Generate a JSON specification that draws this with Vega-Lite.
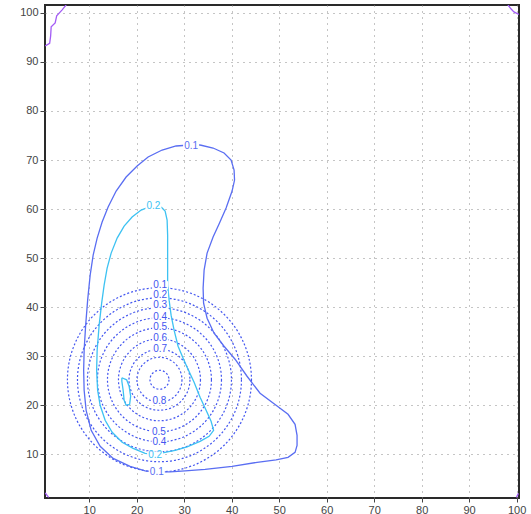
{
  "$schema": "https://vega.github.io/schema/vega-lite/v6.json",
  "width": 474,
  "height": 493,
  "autosize": {"type": "none"},
  "padding": {"left": 45, "top": 5, "right": 12, "bottom": 16},
  "background": "#ffffff",
  "config": {
    "view": {"stroke": "#2a2a2a", "strokeWidth": 2},
    "axis": {
      "domain": false,
      "grid": true,
      "gridColor": "#8a8a8a",
      "gridDash": [1, 5],
      "gridWidth": 1,
      "tickColor": "#444444",
      "tickWidth": 1,
      "labelFont": "Liberation Sans",
      "labelFontSize": 11,
      "labelColor": "#444444",
      "title": null
    },
    "axisX": {"tickSize": 4, "labelPadding": 2},
    "axisY": {"tickSize": 5, "labelPadding": 2}
  },
  "encoding": {
    "x": {"field": "x", "type": "quantitative", "scale": {"domain": [0.7, 100.5], "nice": false, "zero": false}, "axis": {"values": [10, 20, 30, 40, 50, 60, 70, 80, 90, 100]}},
    "y": {"field": "y", "type": "quantitative", "scale": {"domain": [1.1, 101.6], "nice": false, "zero": false}, "axis": {"values": [10, 20, 30, 40, 50, 60, 70, 80, 90, 100]}}
  },
  "layer": [
    {
      "data": {"values": [
        {"lvl": "0.1", "x": 24.8, "y": 25.2, "r": 19.17},
        {"lvl": "0.2", "x": 24.8, "y": 25.2, "r": 17.08},
        {"lvl": "0.3", "x": 24.8, "y": 25.2, "r": 15.0},
        {"lvl": "0.4", "x": 24.8, "y": 25.2, "r": 12.92},
        {"lvl": "0.5", "x": 24.8, "y": 25.2, "r": 10.83},
        {"lvl": "0.6", "x": 24.8, "y": 25.2, "r": 8.54},
        {"lvl": "0.7", "x": 24.8, "y": 25.2, "r": 6.35},
        {"lvl": "0.8", "x": 24.8, "y": 25.2, "r": 4.69},
        {"lvl": "0.9", "x": 24.8, "y": 25.2, "r": 1.98}
      ]},
      "mark": {"type": "point", "shape": "circle", "filled": false, "strokeDash": [2, 2], "strokeWidth": 1.2, "color": "#4356f0", "opacity": 1},
      "encoding": {
        "size": {"field": "r", "type": "quantitative", "scale": {"type": "pow", "exponent": 2, "domain": [0, 20], "range": [0, 36864]}, "legend": null}
      }
    },
    {
      "data": {"values": [
        {"id": "b1", "g": "b", "o": 1, "x": 33.35, "y": 73.06},
        {"id": "b1", "g": "b", "o": 2, "x": 36.09, "y": 72.45},
        {"id": "b1", "g": "b", "o": 3, "x": 38.40, "y": 71.43},
        {"id": "b1", "g": "b", "o": 4, "x": 39.88, "y": 70.0},
        {"id": "b1", "g": "b", "o": 5, "x": 40.51, "y": 67.96},
        {"id": "b1", "g": "b", "o": 6, "x": 40.61, "y": 65.92},
        {"id": "b1", "g": "b", "o": 7, "x": 40.09, "y": 63.67},
        {"id": "b1", "g": "b", "o": 8, "x": 38.83, "y": 60.20},
        {"id": "b1", "g": "b", "o": 9, "x": 37.35, "y": 56.94},
        {"id": "b1", "g": "b", "o": 10, "x": 36.09, "y": 54.29},
        {"id": "b1", "g": "b", "o": 11, "x": 34.83, "y": 51.02},
        {"id": "b1", "g": "b", "o": 12, "x": 34.20, "y": 47.55},
        {"id": "b1", "g": "b", "o": 13, "x": 33.99, "y": 43.88},
        {"id": "b1", "g": "b", "o": 14, "x": 34.09, "y": 40.82},
        {"id": "b1", "g": "b", "o": 15, "x": 34.83, "y": 37.76},
        {"id": "b1", "g": "b", "o": 16, "x": 36.30, "y": 34.69},
        {"id": "b1", "g": "b", "o": 17, "x": 38.40, "y": 32.04},
        {"id": "b1", "g": "b", "o": 18, "x": 40.72, "y": 29.39},
        {"id": "b1", "g": "b", "o": 19, "x": 43.24, "y": 25.92},
        {"id": "b1", "g": "b", "o": 20, "x": 45.98, "y": 22.45},
        {"id": "b1", "g": "b", "o": 21, "x": 49.35, "y": 20.0},
        {"id": "b1", "g": "b", "o": 22, "x": 51.87, "y": 18.16},
        {"id": "b1", "g": "b", "o": 23, "x": 53.35, "y": 16.12},
        {"id": "b1", "g": "b", "o": 24, "x": 53.77, "y": 13.88},
        {"id": "b1", "g": "b", "o": 25, "x": 53.77, "y": 11.84},
        {"id": "b1", "g": "b", "o": 26, "x": 53.35, "y": 10.41},
        {"id": "b1", "g": "b", "o": 27, "x": 51.87, "y": 9.39},
        {"id": "b1", "g": "b", "o": 28, "x": 49.35, "y": 8.88},
        {"id": "b1", "g": "b", "o": 29, "x": 45.35, "y": 8.37},
        {"id": "b1", "g": "b", "o": 30, "x": 40.09, "y": 7.55},
        {"id": "b1", "g": "b", "o": 31, "x": 34.41, "y": 6.94},
        {"id": "b1", "g": "b", "o": 32, "x": 30.20, "y": 6.63},
        {"id": "b1", "g": "b", "o": 33, "x": 27.04, "y": 6.43},
        {"id": "b1", "g": "b", "o": 34, "x": 24.31, "y": 6.43},
        {"id": "b1", "g": "b", "o": 35, "x": 21.78, "y": 6.63},
        {"id": "b1", "g": "b", "o": 36, "x": 18.62, "y": 7.55},
        {"id": "b1", "g": "b", "o": 37, "x": 15.05, "y": 9.18},
        {"id": "b1", "g": "b", "o": 38, "x": 12.31, "y": 11.63},
        {"id": "b1", "g": "b", "o": 39, "x": 10.42, "y": 14.90},
        {"id": "b1", "g": "b", "o": 40, "x": 9.36, "y": 18.98},
        {"id": "b1", "g": "b", "o": 41, "x": 8.94, "y": 23.06},
        {"id": "b1", "g": "b", "o": 42, "x": 8.84, "y": 27.14},
        {"id": "b1", "g": "b", "o": 43, "x": 8.94, "y": 31.22},
        {"id": "b1", "g": "b", "o": 44, "x": 9.26, "y": 36.33},
        {"id": "b1", "g": "b", "o": 45, "x": 9.68, "y": 41.43},
        {"id": "b1", "g": "b", "o": 46, "x": 10.21, "y": 46.53},
        {"id": "b1", "g": "b", "o": 47, "x": 10.84, "y": 50.61},
        {"id": "b1", "g": "b", "o": 48, "x": 11.68, "y": 54.08},
        {"id": "b1", "g": "b", "o": 49, "x": 12.73, "y": 57.35},
        {"id": "b1", "g": "b", "o": 50, "x": 13.99, "y": 60.41},
        {"id": "b1", "g": "b", "o": 51, "x": 15.68, "y": 63.67},
        {"id": "b1", "g": "b", "o": 52, "x": 17.78, "y": 66.53},
        {"id": "b1", "g": "b", "o": 53, "x": 20.10, "y": 68.78},
        {"id": "b1", "g": "b", "o": 54, "x": 22.41, "y": 70.61},
        {"id": "b1", "g": "b", "o": 55, "x": 25.36, "y": 72.04},
        {"id": "b1", "g": "b", "o": 56, "x": 28.30, "y": 72.86},
        {"id": "b1", "g": "b", "o": 57, "x": 31.25, "y": 73.06},
        {"id": "b1", "g": "b", "o": 58, "x": 33.35, "y": 73.06},

        {"id": "c1", "g": "c", "o": 1, "x": 25.15, "y": 60.41},
        {"id": "c1", "g": "c", "o": 2, "x": 25.99, "y": 59.59},
        {"id": "c1", "g": "c", "o": 3, "x": 26.41, "y": 57.76},
        {"id": "c1", "g": "c", "o": 4, "x": 26.52, "y": 54.69},
        {"id": "c1", "g": "c", "o": 5, "x": 26.52, "y": 49.59},
        {"id": "c1", "g": "c", "o": 6, "x": 26.52, "y": 44.49},
        {"id": "c1", "g": "c", "o": 7, "x": 26.83, "y": 41.43},
        {"id": "c1", "g": "c", "o": 8, "x": 27.25, "y": 38.37},
        {"id": "c1", "g": "c", "o": 9, "x": 27.88, "y": 35.31},
        {"id": "c1", "g": "c", "o": 10, "x": 28.72, "y": 32.04},
        {"id": "c1", "g": "c", "o": 11, "x": 29.78, "y": 29.59},
        {"id": "c1", "g": "c", "o": 12, "x": 30.62, "y": 27.76},
        {"id": "c1", "g": "c", "o": 13, "x": 32.09, "y": 24.69},
        {"id": "c1", "g": "c", "o": 14, "x": 33.35, "y": 21.63},
        {"id": "c1", "g": "c", "o": 15, "x": 34.62, "y": 18.98},
        {"id": "c1", "g": "c", "o": 16, "x": 35.67, "y": 16.73},
        {"id": "c1", "g": "c", "o": 17, "x": 36.20, "y": 14.90},
        {"id": "c1", "g": "c", "o": 18, "x": 35.25, "y": 13.67},
        {"id": "c1", "g": "c", "o": 19, "x": 33.35, "y": 12.65},
        {"id": "c1", "g": "c", "o": 20, "x": 30.62, "y": 11.53},
        {"id": "c1", "g": "c", "o": 21, "x": 28.09, "y": 10.82},
        {"id": "c1", "g": "c", "o": 22, "x": 25.99, "y": 10.41},
        {"id": "c1", "g": "c", "o": 23, "x": 23.88, "y": 10.0},
        {"id": "c1", "g": "c", "o": 24, "x": 21.78, "y": 10.20},
        {"id": "c1", "g": "c", "o": 25, "x": 19.26, "y": 11.22},
        {"id": "c1", "g": "c", "o": 26, "x": 16.94, "y": 12.45},
        {"id": "c1", "g": "c", "o": 27, "x": 14.84, "y": 14.49},
        {"id": "c1", "g": "c", "o": 28, "x": 13.36, "y": 16.94},
        {"id": "c1", "g": "c", "o": 29, "x": 12.31, "y": 20.0},
        {"id": "c1", "g": "c", "o": 30, "x": 11.78, "y": 23.06},
        {"id": "c1", "g": "c", "o": 31, "x": 11.57, "y": 27.14},
        {"id": "c1", "g": "c", "o": 32, "x": 11.68, "y": 31.22},
        {"id": "c1", "g": "c", "o": 33, "x": 12.10, "y": 36.33},
        {"id": "c1", "g": "c", "o": 34, "x": 12.63, "y": 40.82},
        {"id": "c1", "g": "c", "o": 35, "x": 13.15, "y": 44.49},
        {"id": "c1", "g": "c", "o": 36, "x": 13.78, "y": 47.96},
        {"id": "c1", "g": "c", "o": 37, "x": 14.63, "y": 51.02},
        {"id": "c1", "g": "c", "o": 38, "x": 15.89, "y": 54.08},
        {"id": "c1", "g": "c", "o": 39, "x": 17.36, "y": 56.53},
        {"id": "c1", "g": "c", "o": 40, "x": 19.04, "y": 58.37},
        {"id": "c1", "g": "c", "o": 41, "x": 20.94, "y": 59.80},
        {"id": "c1", "g": "c", "o": 42, "x": 23.04, "y": 60.61},
        {"id": "c1", "g": "c", "o": 43, "x": 25.15, "y": 60.41},

        {"id": "c2", "g": "c", "o": 1, "x": 16.88, "y": 25.61},
        {"id": "c2", "g": "c", "o": 2, "x": 17.89, "y": 25.20},
        {"id": "c2", "g": "c", "o": 3, "x": 18.41, "y": 23.88},
        {"id": "c2", "g": "c", "o": 4, "x": 18.73, "y": 21.84},
        {"id": "c2", "g": "c", "o": 5, "x": 18.52, "y": 20.20},
        {"id": "c2", "g": "c", "o": 6, "x": 17.78, "y": 20.0},
        {"id": "c2", "g": "c", "o": 7, "x": 17.36, "y": 21.02},
        {"id": "c2", "g": "c", "o": 8, "x": 17.15, "y": 23.06},
        {"id": "c2", "g": "c", "o": 9, "x": 16.88, "y": 24.90},
        {"id": "c2", "g": "c", "o": 10, "x": 16.88, "y": 25.61},

        {"id": "p1", "g": "p", "o": 1, "x": 0.74, "y": 93.27},
        {"id": "p1", "g": "p", "o": 2, "x": 1.68, "y": 93.78},
        {"id": "p1", "g": "p", "o": 3, "x": 1.89, "y": 95.31},
        {"id": "p1", "g": "p", "o": 4, "x": 2.0, "y": 97.14},
        {"id": "p1", "g": "p", "o": 5, "x": 2.84, "y": 97.96},
        {"id": "p1", "g": "p", "o": 6, "x": 3.16, "y": 99.39},
        {"id": "p1", "g": "p", "o": 7, "x": 4.31, "y": 100.61},
        {"id": "p1", "g": "p", "o": 8, "x": 5.16, "y": 101.63},

        {"id": "p2", "g": "p", "o": 1, "x": 98.17, "y": 101.63},
        {"id": "p2", "g": "p", "o": 2, "x": 98.80, "y": 100.82},
        {"id": "p2", "g": "p", "o": 3, "x": 99.43, "y": 100.2},
        {"id": "p2", "g": "p", "o": 4, "x": 100.48, "y": 99.69},

        {"id": "p3", "g": "p", "o": 1, "x": 0.74, "y": 2.14},
        {"id": "p3", "g": "p", "o": 2, "x": 1.47, "y": 1.22},

        {"id": "p4", "g": "p", "o": 1, "x": 100.38, "y": 2.04},
        {"id": "p4", "g": "p", "o": 2, "x": 99.96, "y": 1.22}
      ]},
      "mark": {"type": "line", "strokeWidth": 1.3, "clip": true},
      "encoding": {
        "detail": {"field": "id", "type": "nominal"},
        "order": {"field": "o", "type": "quantitative"},
        "color": {"field": "g", "type": "nominal", "scale": {"domain": ["b", "c", "p", "d"], "range": ["#5a6ef2", "#3dc2f2", "#a35cf5", "#4356f0"]}, "legend": null}
      }
    },
    {
      "data": {"name": "labels", "values": [
        {"t": "0.1", "g": "b", "x": 31.46, "y": 72.86},
        {"t": "0.2", "g": "c", "x": 23.53, "y": 60.61},
        {"t": "0.1", "g": "d", "x": 24.94, "y": 44.49},
        {"t": "0.2", "g": "d", "x": 24.94, "y": 42.45},
        {"t": "0.3", "g": "d", "x": 24.94, "y": 40.41},
        {"t": "0.4", "g": "d", "x": 24.94, "y": 38.06},
        {"t": "0.5", "g": "d", "x": 24.94, "y": 35.92},
        {"t": "0.6", "g": "d", "x": 24.94, "y": 33.67},
        {"t": "0.7", "g": "d", "x": 24.94, "y": 31.43},
        {"t": "0.8", "g": "d", "x": 24.8, "y": 20.82},
        {"t": "0.5", "g": "d", "x": 24.7, "y": 14.65},
        {"t": "0.4", "g": "d", "x": 24.8, "y": 12.5},
        {"t": "0.2", "g": "c", "x": 23.88, "y": 9.80},
        {"t": "0.1", "g": "b", "x": 24.24, "y": 6.33}
      ]},
      "mark": {"type": "point", "shape": "M-1,-0.5H1V0.5H-1Z", "size": 256, "filled": true, "fill": "#ffffff", "strokeWidth": 0, "opacity": 1}
    },
    {
      "data": {"name": "labels"},
      "mark": {"type": "text", "font": "Liberation Sans", "fontSize": 10, "align": "center", "baseline": "middle"},
      "encoding": {
        "text": {"field": "t", "type": "nominal"},
        "color": {"field": "g", "type": "nominal", "legend": null}
      }
    }
  ]
}
